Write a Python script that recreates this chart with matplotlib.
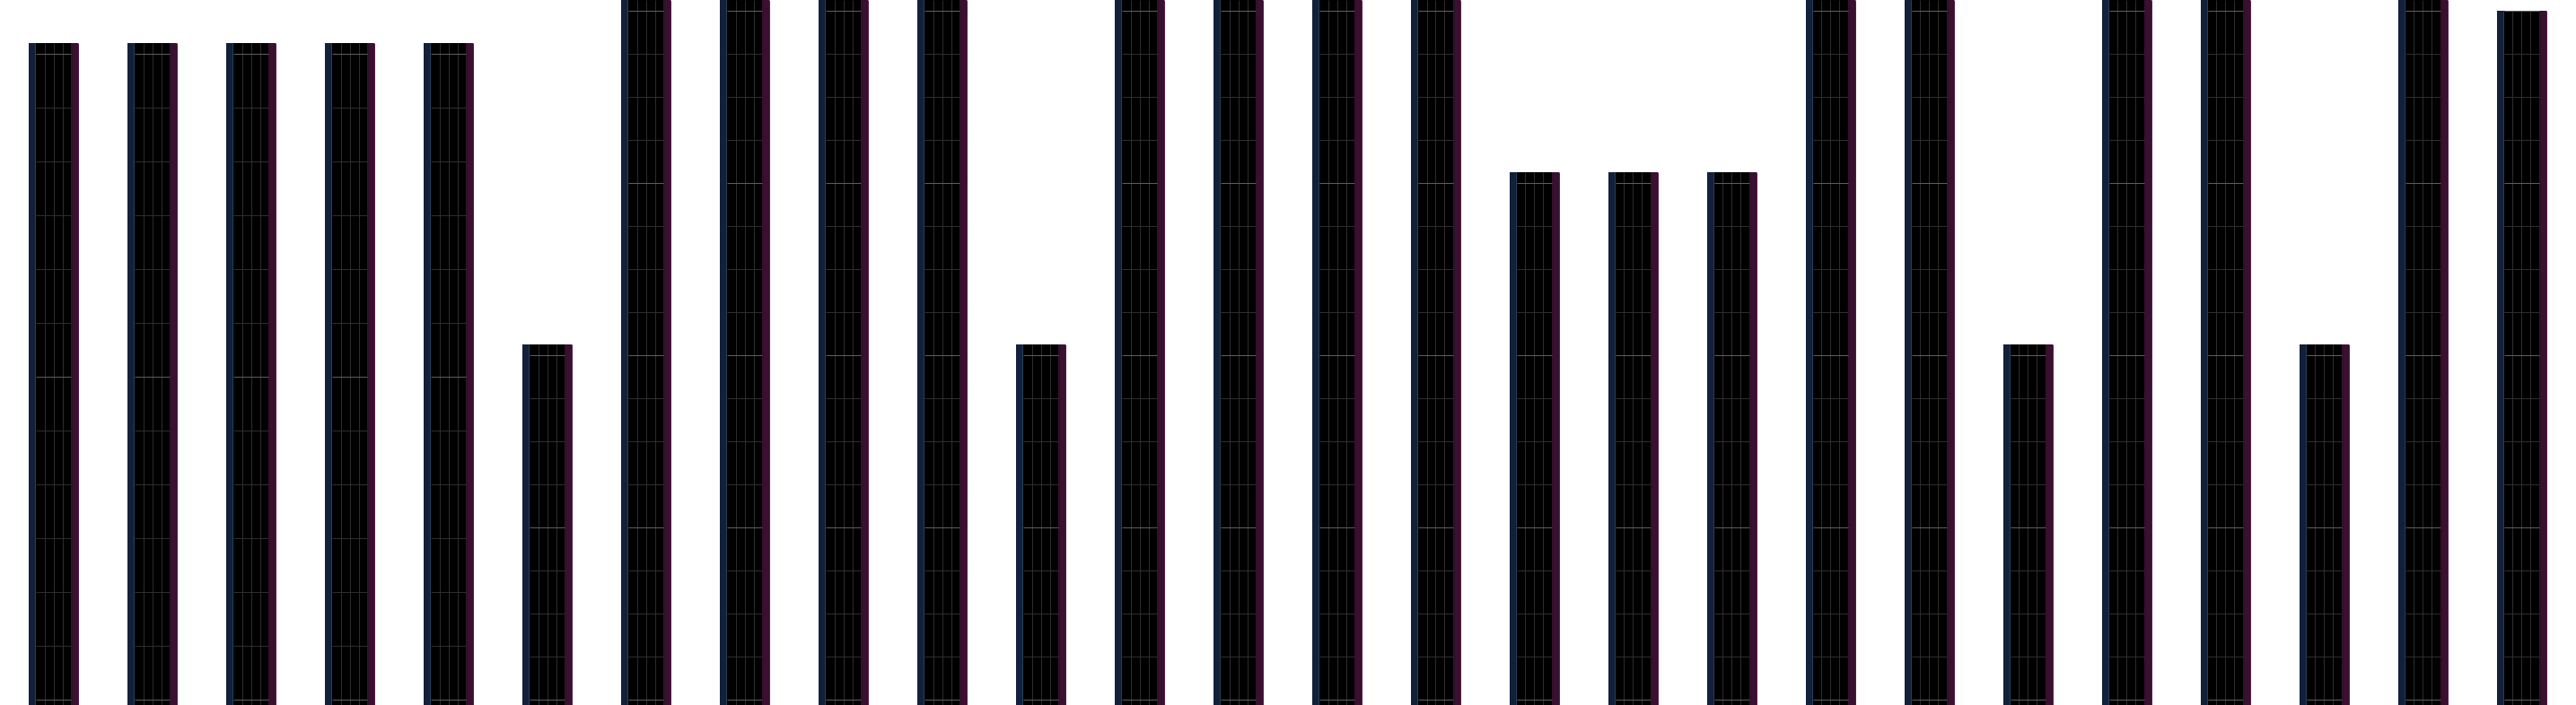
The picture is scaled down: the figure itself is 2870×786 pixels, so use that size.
import numpy as np
import matplotlib
matplotlib.use("Agg")
import matplotlib.pyplot as plt

# bar heights (top of view is 66, bars above it are cut off)
bar_pos = np.arange(26)
bar_vals = [62, 62, 62, 62, 62, 34, 68, 68, 68, 68, 34, 68, 68, 68, 68,
            50, 50, 50, 68, 68, 34, 68, 68, 34, 68, 65]
y_top = 66

fig = plt.figure(figsize=(28.7, 7.86), dpi=100)
ax = fig.add_axes([0, 0, 1, 1])
ax.set_xlim(-0.545, 25.55)
ax.set_ylim(0.5, y_top)
ax.axis("off")

px = 1 / 110.0   # one pixel in x data units
w = 0.5
lw = 0.72        # one pixel in points

ax.bar(bar_pos, bar_vals, width=w, color="black", zorder=1)
# coloured edge strips on each bar
ax.bar(bar_pos - w / 2, bar_vals, width=7.5 * px, align="edge", color="#12203a", zorder=2)
ax.bar(bar_pos + w / 2 - 8 * px, bar_vals, width=8 * px, align="edge", color="#3a1030", zorder=2)

for x, v in zip(bar_pos, bar_vals):
    left = x - w / 2
    h = min(v, y_top)
    ax.vlines(left + 7 * px, 0, h, color="#23405e", lw=lw, zorder=3)
    ax.vlines(left + 54.5 * px, 0, h, color="#5c1a4c", lw=lw, zorder=3)
    ax.vlines(left + 48 * px, 0, h, color="#2a1224", lw=lw, zorder=3)
    # inner grid
    x0, x1 = left + 8 * px, left + 47 * px
    for off in [17.3, 27.3, 37.3]:
        ax.vlines(left + off * px, 0, h, color="#2c2c2c", lw=lw, zorder=3)
    if (v - 2) % 16 == 0 or v >= 65:
        major, minor = 16, 4
    else:
        major = (v - 2) / 2
        minor = major / 6
    ys = np.arange(1, h + 0.01, minor)
    for yy in ys:
        bright = abs(((yy - 1) / major) - round((yy - 1) / major)) < 1e-6
        ax.hlines(yy, x0, x1, color="#5e5e5e" if bright else "#2e2e2e", lw=lw, zorder=4)

fig.savefig("out.png", dpi=100, facecolor="white")
